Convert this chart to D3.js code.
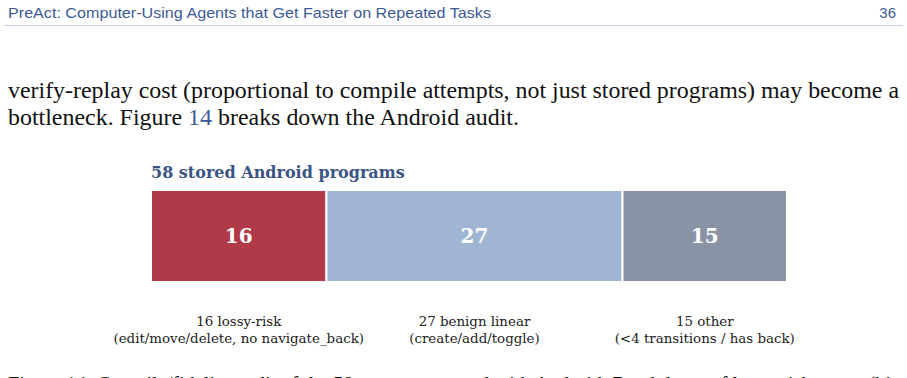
<!DOCTYPE html>
<html lang="en">
  <head>
    <meta charset="UTF-8" />
    <title>android audit</title>
    <style>
      body {
        margin: 0;
        background: #fff;
      }
      svg {
        display: block;
      }
    </style>
  </head>

  <body>
    <div class="container"></div>

    <script src="https://d3js.org/d3.v7.min.js"></script>
    <script>
      // data
      const categories = ["lossy-risk", "benign linear", "other"];
      const counts = [16, 27, 15];
      const notes = [
        "(edit/move/delete, no navigate_back)",
        "(create/add/toggle)",
        "(<4 transitions / has back)",
      ];
      const colors = ["#b03a48", "#a0b4d4", "#8a93a6"];
      const total = d3.sum(counts);

      const svg = d3
        .select(".container")
        .append("svg")
        .attr("width", 907)
        .attr("height", 378);

      // page header
      svg
        .append("text")
        .attr("x", 8)
        .attr("y", 18)
        .attr("font-family", "Liberation Sans, Arial, sans-serif")
        .attr("font-size", 15)
        .attr("fill", "#3c5a96")
        .attr("textLength", 483)
        .attr("lengthAdjust", "spacingAndGlyphs")
        .text("PreAct: Computer-Using Agents that Get Faster on Repeated Tasks");
      svg
        .append("text")
        .attr("x", 896)
        .attr("y", 18)
        .attr("text-anchor", "end")
        .attr("font-family", "Liberation Sans, Arial, sans-serif")
        .attr("font-size", 15)
        .attr("fill", "#3c5a96")
        .text("36");
      svg
        .append("line")
        .attr("x1", 4)
        .attr("x2", 903)
        .attr("y1", 25.5)
        .attr("y2", 25.5)
        .attr("stroke", "#c8cde0")
        .attr("stroke-width", 1);

      // body text
      const body = svg
        .append("g")
        .attr("font-family", "Liberation Serif, Times New Roman, serif")
        .attr("font-size", 23)
        .attr("fill", "#111");
      body
        .append("text")
        .attr("x", 8)
        .attr("y", 98)
        .attr("textLength", 891)
        .attr("lengthAdjust", "spacingAndGlyphs")
        .text(
          "verify-replay cost (proportional to compile attempts, not just stored programs) may become a"
        );
      const l2 = body
        .append("text")
        .attr("x", 8)
        .attr("y", 125)
        .attr("textLength", 511)
        .attr("lengthAdjust", "spacingAndGlyphs");
      l2.append("tspan").text("bottleneck. Figure ");
      l2.append("tspan").attr("fill", "#3c5a96").text("14");
      l2.append("tspan").text(" breaks down the Android audit.");

      // chart
      const x = d3.scaleLinear().domain([0, total]).range([151, 787]);
      const y0 = 190,
        y1 = 282;
      let acc = 0;
      const segs = counts.map((c, i) => {
        const s = { i, start: acc, end: acc + c, value: c };
        acc += c;
        return s;
      });

      svg
        .append("text")
        .attr("x", x(0))
        .attr("y", 178)
        .attr("font-family", "DejaVu Serif, serif")
        .attr("font-weight", "bold")
        .attr("font-size", 16)
        .attr("fill", "#3a5585")
        .text(`${total} stored Android programs`);

      const g = svg.append("g");
      g.selectAll("rect")
        .data(segs)
        .join("rect")
        .attr("x", (d) => x(d.start))
        .attr("y", y0)
        .attr("width", (d) => x(d.end) - x(d.start))
        .attr("height", y1 - y0)
        .attr("fill", (d) => colors[d.i])
        .attr("stroke", "#fff")
        .attr("stroke-width", 2);

      g.selectAll("text.val")
        .data(segs)
        .join("text")
        .attr("class", "val")
        .attr("x", (d) => (x(d.start) + x(d.end)) / 2)
        .attr("y", (y0 + y1) / 2 + 7)
        .attr("text-anchor", "middle")
        .attr("font-family", "DejaVu Serif, serif")
        .attr("font-weight", "bold")
        .attr("font-size", 20)
        .attr("fill", "#fff")
        .text((d) => d.value);

      // labels under the bar
      const lab = g
        .selectAll("g.lab")
        .data(segs)
        .join("g")
        .attr("class", "lab")
        .attr("font-family", "DejaVu Serif, serif")
        .attr("font-size", 13.4)
        .attr("fill", "#222")
        .attr("text-anchor", "middle")
        .attr("transform", (d) => `translate(${(x(d.start) + x(d.end)) / 2},0)`);
      lab
        .append("text")
        .attr("y", 326)
        .text((d) => `${d.value} ${categories[d.i]}`);
      lab
        .append("text")
        .attr("y", 343)
        .text((d) => notes[d.i]);

      // caption, cut off at the bottom of the page
      svg
        .append("text")
        .attr("x", 8)
        .attr("y", 391)
        .attr("font-family", "Liberation Serif, Times New Roman, serif")
        .attr("font-size", 21)
        .attr("fill", "#111")
        .attr("textLength", 891)
        .attr("lengthAdjust", "spacingAndGlyphs")
        .text(
          "Figure 14: Compile/fidelity audit of the 58 programs stored with Android. Breakdown of lossy-risk traces (bis"
        );
    </script>
  </body>
</html>
